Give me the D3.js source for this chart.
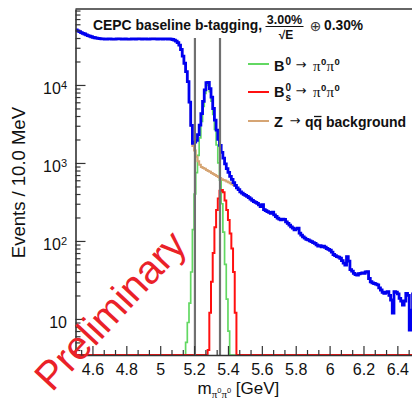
<!DOCTYPE html>
<html><head><meta charset="utf-8">
<script src="https://cdn.jsdelivr.net/npm/d3@7"></script>
<style>body{margin:0;background:#fff}svg{display:block}</style>
</head><body>
<script>
// ---------------- data ----------------
const xMin = 4.5, xMax = 6.5, binWidth = 0.01;   // 10 MeV bins
const yMin = 3.45, yMax = 94200;                 // axis range
// Z -> qq background (events / bin), bins from 4.50 GeV
const bkg = [
50700,49500,48200,47000,46000,45000,44000,43000,42200,41500,40800,40300,39900,39500,39200,
39000,38900,38800,38800,38900,38900,38800,38700,38800,38900,
39000,38900,38800,38800,38900,38800,38700,38800,38900,38900,
38800,38900,39000,38900,38800,38900,38900,38800,38800,38900,
39000,39000,38900,38800,38900,38900,38800,38900,38900,38800,
38900,
38700,38300,37500,36500,35000,32500,28500,23500,19000,14800,
11000,6000,3000,1650,1450,1200,1050,950,890,865,
840,815,790,770,745,720,700,680,660,640,
620,605,595,580,565,550,535,520,505,480,
455,425,410,395,
385,372,360,345,332,320,312,304,290,276,
292,252,245,238,232,226,234,216,206,196,
190,186,191,189,176,168,160,152,146,139,
143,146,126,119,113,109,105,103,100,98,
95,93,89,86,87,84,86,83,80,78,
76,72,67,65,63,62,60,56,52,49,
63,55,43,41,38.5,37,36.5,38,38.5,39,
38.5,40,40.5,33,30,29,28.5,28,27.3,25,
23.5,22,21.3,22,22.4,20,17.5,11.9,22.4,22,
21,18.4,17,15.1,17,21.3,20,7.2,13,21
];
// B0 -> pi0 pi0 signal, starting at bin 65
const b0Start = 65;
const b0 = [5,9,16,40,140,400,750,1250,2100,3400,5300,7800,9900,10000,8200,6200,4200,2700,1700,1000,600,300,130,50,18,7];
// Bs -> pi0 pi0 signal, starting at bin 78
const bsStart = 78;
const bs = [4,12,30,70,150,250,350,440,450,420,330,250,185,125,80,40,12];
// mass window lines
const cutLines = [5.205, 5.353];
const cutTop = 40000;
const xTicks = [4.6,4.8,5,5.2,5.4,5.6,5.8,6,6.2,6.4];
const yTicks = [10,100,1000,10000];

// ---------------- setup ----------------
const W = 412, H = 399;
const nBins = Math.round((xMax - xMin) / binWidth);
const pad = (arr, start) => d3.range(nBins).map(i => (i >= start && i < start + arr.length) ? arr[i - start] : 0);
const b0Full = pad(b0, b0Start), bsFull = pad(bs, bsStart);
const total = d3.range(nBins).map(i => bkg[i] + b0Full[i] + bsFull[i]);

const x = d3.scaleLinear().domain([xMin, xMax]).range([75.5, 414.3]);
const y = d3.scaleLog().domain([yMin, yMax]).range([355, 9]);

const svg = d3.select("body").append("svg").attr("width", W).attr("height", H)
  .style("font-family", "'Liberation Sans', Arial, Helvetica, sans-serif");

svg.append("clipPath").attr("id", "clip").append("rect")
  .attr("x", x(xMin)).attr("y", y(yMax)).attr("width", x(xMax) - x(xMin)).attr("height", y(yMin) - y(yMax) + 2);

function stepPath(vals) {
  let d = "";
  vals.forEach((v, i) => {
    const x0 = x(xMin + i * binWidth), x1 = x(xMin + (i + 1) * binWidth);
    const yy = y(Math.max(v, yMin));
    d += (i === 0 ? `M${x0},${yy}` : `V${yy}`) + `H${x1}`;
  });
  return d;
}

const plot = svg.append("g").attr("clip-path", "url(#clip)");
const cGreen = "#62d862", cRed = "#ff1010", cOrange = "#d6a574", cBlue = "#0000f0", cGray = "#707070";
plot.append("path").attr("d", stepPath(b0Full)).attr("fill", "none").attr("stroke", cGreen).attr("stroke-width", 1.7);
plot.append("path").attr("d", stepPath(bsFull)).attr("fill", "none").attr("stroke", cRed).attr("stroke-width", 2);
plot.append("path").attr("d", stepPath(bkg)).attr("fill", "none").attr("stroke", cOrange).attr("stroke-width", 2);
plot.append("path").attr("d", stepPath(total)).attr("fill", "none").attr("stroke", cBlue).attr("stroke-width", 2.8);

plot.selectAll("line.cut").data(cutLines).join("line").attr("class", "cut")
  .attr("x1", d => x(d)).attr("x2", d => x(d)).attr("y1", y(yMin)).attr("y2", y(cutTop))
  .attr("stroke", cGray).attr("stroke-width", 2.2);

// ---------------- axes ----------------
const axisColor = "#333";
const xMinor = d3.range(-3, 31).map(k => 4.6 + k * 0.2 / 3).filter(v => v > xMin && v < xMax && Math.abs(((v - 4.6) / 0.2) - Math.round((v - 4.6) / 0.2)) > 0.01);
const yMinor = [];
for (let e = 0; e <= 4; e++) for (let m = 2; m <= 9; m++) { const v = m * Math.pow(10, e); if (v > yMin && v < yMax) yMinor.push(v); }

const gx = svg.append("g").attr("transform", `translate(0,${y(yMin)})`);
gx.call(d3.axisBottom(x).tickValues(xMinor).tickSize(-5).tickSizeOuter(0).tickFormat(""));
gx.call(g => g.selectAll(".tick line").attr("stroke", axisColor).attr("stroke-width", 1.2));
const gx2 = svg.append("g").attr("transform", `translate(0,${y(yMin)})`);
gx2.call(d3.axisBottom(x).tickValues(xTicks).tickSize(-9).tickSizeOuter(0).tickPadding(8.5).tickFormat(d3.format("")));
gx2.call(g => {
  g.select(".domain").remove();
  g.selectAll(".tick line").attr("stroke", axisColor).attr("stroke-width", 1.2);
  g.selectAll(".tick text").attr("font-size", 16).attr("fill", "#111").attr("font-family", "'Liberation Sans', Arial, sans-serif");
});
gx.select(".domain").attr("stroke", axisColor).attr("stroke-width", 1.5);

const gy = svg.append("g").attr("transform", `translate(${x(xMin)},0)`);
gy.call(d3.axisLeft(y).tickValues(yMinor).tickSize(-5).tickSizeOuter(0).tickFormat(""));
gy.call(g => { g.select(".domain").attr("stroke", axisColor).attr("stroke-width", 1.6); g.selectAll(".tick line").attr("stroke", axisColor).attr("stroke-width", 1.2); });
const gy2 = svg.append("g").attr("transform", `translate(${x(xMin)},0)`);
gy2.call(d3.axisLeft(y).tickValues(yTicks).tickSize(-10).tickSizeOuter(0).tickPadding(8.5).tickFormat(""));
gy2.call(g => {
  g.select(".domain").remove();
  g.selectAll(".tick line").attr("stroke", axisColor).attr("stroke-width", 1.2);
  g.selectAll(".tick text").attr("font-size", 16).attr("fill", "#111").attr("dy", "0.55em")
    .attr("font-family", "'Liberation Sans', Arial, sans-serif")
    .each(function (d) {
      const e = Math.round(Math.log10(d));
      const t = d3.select(this);
      t.text("10");
      if (e > 1) t.append("tspan").attr("font-size", 11).attr("dy", "-0.5em").text(e);
    });
});
// top frame
svg.append("line").attr("x1", x(xMin)).attr("x2", x(xMax)).attr("y1", y(yMax)).attr("y2", y(yMax))
  .attr("stroke", axisColor).attr("stroke-width", 1.5);

// axis titles
svg.append("text").attr("transform", "translate(25,107) rotate(-90)").attr("text-anchor", "end")
  .attr("font-size", 18.5).attr("fill", "#111").text("Events / 10.0 MeV");

const xt = svg.append("text").attr("x", 197.5).attr("y", 394).attr("fill", "#111").attr("font-size", 17);
xt.append("tspan").text("m");
xt.append("tspan").attr("font-family", "'Liberation Serif', serif").attr("font-size", 11).attr("dy", 3.5).text("π");
xt.append("tspan").attr("font-size", 7.5).attr("dy", -4.5).text("0");
xt.append("tspan").attr("font-family", "'Liberation Serif', serif").attr("font-size", 11).attr("dy", 4.5).text("π");
xt.append("tspan").attr("font-size", 7.5).attr("dy", -4.5).text("0");
xt.append("tspan").attr("dy", 1).text(" [GeV]");

// ---------------- title ----------------
const bold = { "font-weight": "bold", "fill": "#111" };
function txt(xp, yp, s, size, extra) {
  const t = svg.append("text").attr("x", xp).attr("y", yp).attr("font-size", size).text(s);
  Object.entries(extra || {}).forEach(([k, v]) => t.attr(k, v));
  return t;
}
txt(93, 29.5, "CEPC baseline b-tagging,", 13.9, bold);
txt(284.5, 24, "3.00%", 12.5, Object.assign({ "text-anchor": "middle" }, bold));
svg.append("line").attr("x1", 265.5).attr("x2", 303.5).attr("y1", 26.5).attr("y2", 26.5).attr("stroke", "#111").attr("stroke-width", 1.2);
txt(286, 38.5, "√E", 12, Object.assign({ "text-anchor": "middle" }, bold));
txt(315.5, 26, "⊕", 14, { "text-anchor": "middle", "dominant-baseline": "central", "font-family": "'DejaVu Sans', sans-serif", "fill": "#333" });
txt(324, 29.5, "0.30%", 13.8, bold);

// ---------------- legend ----------------
const legend = [
  { color: cGreen, ly: 64, base: 71, kind: "b0" },
  { color: cRed, ly: 92, base: 97, kind: "bs" },
  { color: cOrange, ly: 121, base: 127, kind: "z" }
];
const serif = { "font-family": "'Liberation Serif', serif", "fill": "#111" };
const arrowF = { "font-family": "'DejaVu Sans', sans-serif", "fill": "#111" };
legend.forEach(e => {
  svg.append("line").attr("x1", 248).attr("x2", 269).attr("y1", e.ly).attr("y2", e.ly).attr("stroke", e.color).attr("stroke-width", 2);
  if (e.kind === "z") {
    txt(274, e.base, "Z", 14.5, bold);
    txt(289.5, e.base - 2, "→", 13, arrowF);
    txt(305, e.base, "qq", 14, bold);
    svg.append("line").attr("x1", 314).attr("x2", 321.5).attr("y1", e.base - 10.5).attr("y2", e.base - 10.5).attr("stroke", "#111").attr("stroke-width", 1.3);
    txt(326, e.base, "background", 14, bold);
  } else {
    txt(274, e.base, "B", 14.5, bold);
    txt(285.5, e.base - 6, "0", 10, bold);
    if (e.kind === "bs") txt(285.5, e.base + 4, "s", 10, bold);
    txt(295.5, e.base - 2, "→", 13, arrowF);
    txt(313, e.base, "π", 15, serif);
    txt(321, e.base - 6, "0", 9.5, bold);
    txt(326.5, e.base, "π", 15, serif);
    txt(334.5, e.base - 6, "0", 9.5, bold);
  }
});

// ---------------- watermark ----------------
svg.append("text").attr("transform", "translate(52,393) rotate(-47)")
  .attr("font-size", 40).attr("fill", "#ea2128").text("Preliminary");
</script>
</body></html>
